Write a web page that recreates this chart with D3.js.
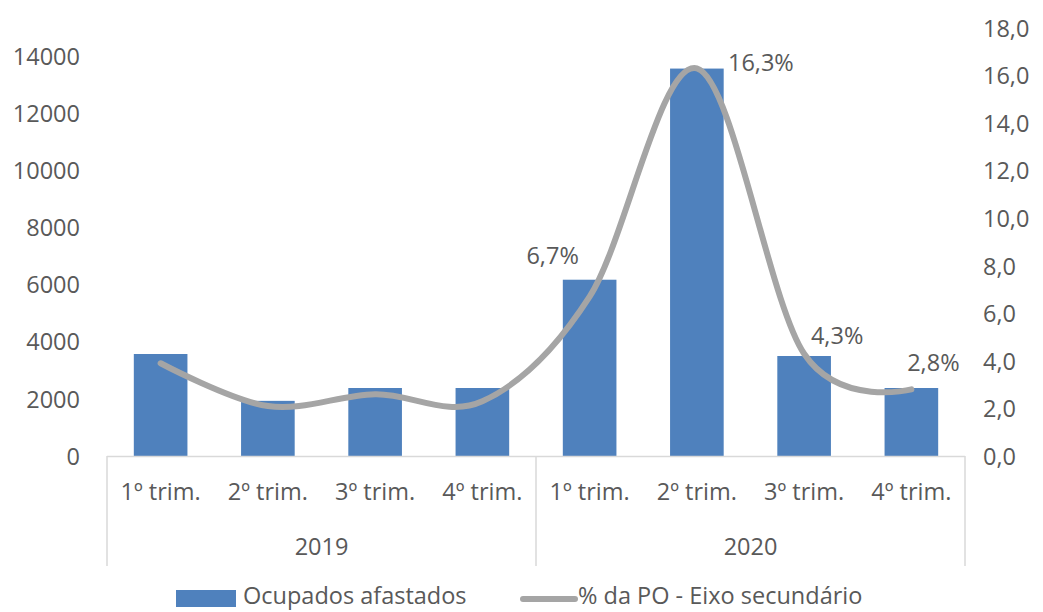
<!DOCTYPE html>
<html>
<head>
<meta charset="utf-8">
<script src="https://cdn.jsdelivr.net/npm/d3@7"></script>
<style>
  html, body { margin: 0; padding: 0; background: #ffffff; }
  svg { display: block; }
  text { font-family: "Open Sans", "Noto Sans", sans-serif; fill: #595959; }
</style>
</head>
<body>
<svg id="chart" width="1043" height="612"></svg>
<script>
// Quarters and the year each one belongs to
const quarters = ["1º trim.", "2º trim.", "3º trim.", "4º trim.", "1º trim.", "2º trim.", "3º trim.", "4º trim."];
const years = ["2019", "2019", "2019", "2019", "2020", "2020", "2020", "2020"];
const yearGroups = ["2019", "2020"];

// Employed people away from work (thousands)
const afastados = [3570, 1930, 2380, 2380, 6170, 13560, 3500, 2380];
// Share of the employed population (%), secondary axis
const pctPO = [3.9, 2.1, 2.6, 2.3, 6.7, 16.3, 4.3, 2.8];
// Which points carry a value label
const labelled = [false, false, false, false, true, true, true, true];

const leftTicks = [0, 2000, 4000, 6000, 8000, 10000, 12000, 14000];
const rightTicks = [0, 2, 4, 6, 8, 10, 12, 14, 16, 18];

const FS = "23.5px";
const svg = d3.select("#chart");
const m = { left: 107, right: 965, top: 28, bottom: 456 };

const x = d3.scaleBand()
  .domain(d3.range(quarters.length))
  .range([m.left, m.right])
  .paddingInner(0.5)
  .paddingOuter(0.25);

const yL = d3.scaleLinear().domain([0, 14980]).range([m.bottom, m.top]);
const yR = d3.scaleLinear().domain([0, 18]).range([m.bottom, m.top]);

const comma1 = v => d3.format(".1f")(v).replace(".", ",");

// Left axis (values)
const axL = svg.append("g")
  .attr("transform", `translate(${m.left},0)`)
  .call(d3.axisLeft(yL).tickValues(leftTicks).tickSize(0).tickPadding(27).tickFormat(d3.format("d")));
axL.select(".domain").remove();
axL.selectAll("text").style("font-size", FS).attr("fill", "#595959").attr("dy", "0.35em");

// Right axis (percent)
const axR = svg.append("g")
  .attr("transform", `translate(${m.right},0)`)
  .call(d3.axisRight(yR).tickValues(rightTicks).tickSize(0).tickPadding(18).tickFormat(comma1));
axR.select(".domain").remove();
axR.selectAll("text").style("font-size", FS).attr("fill", "#595959").attr("dy", "0.35em");

// Bars
svg.append("g").selectAll("rect")
  .data(afastados)
  .join("rect")
  .attr("x", (d, i) => x(i))
  .attr("width", x.bandwidth())
  .attr("y", d => yL(d))
  .attr("height", d => yL(0) - yL(d))
  .attr("fill", "#4f81bd");

// Category axis baseline and group separators
const step = (m.right - m.left) / quarters.length;
svg.append("line")
  .attr("x1", m.left).attr("x2", m.right)
  .attr("y1", m.bottom + 0.5).attr("y2", m.bottom + 0.5)
  .attr("stroke", "#d9d9d9").attr("stroke-width", 1.5);

const sepX = [0, 4, 8].map(i => m.left + i * step);
svg.append("g").selectAll("line")
  .data(sepX)
  .join("line")
  .attr("x1", d => d).attr("x2", d => d)
  .attr("y1", m.bottom).attr("y2", 566)
  .attr("stroke", "#d9d9d9").attr("stroke-width", 1.5);

// Quarter labels
svg.append("g").selectAll("text")
  .data(quarters)
  .join("text")
  .attr("x", (d, i) => x(i) + x.bandwidth() / 2)
  .attr("y", 492)
  .attr("dy", "0.35em")
  .attr("text-anchor", "middle")
  .style("font-size", FS)
  .text(d => d);

// Year labels, centred under their quarters
svg.append("g").selectAll("text")
  .data(yearGroups)
  .join("text")
  .attr("x", yr => {
    const idx = years.map((y, i) => y === yr ? i : -1).filter(i => i >= 0);
    return (m.left + idx[0] * step + m.left + (idx[idx.length - 1] + 1) * step) / 2;
  })
  .attr("y", 547)
  .attr("dy", "0.35em")
  .attr("text-anchor", "middle")
  .style("font-size", FS)
  .text(d => d);

// Smoothed percentage line
const cx = i => x(i) + x.bandwidth() / 2;
const line = d3.line()
  .x((d, i) => cx(i))
  .y(d => yR(d))
  .curve(d3.curveCardinal.tension(0));

svg.append("path")
  .datum(pctPO)
  .attr("d", line)
  .attr("fill", "none")
  .attr("stroke", "#a5a5a5")
  .attr("stroke-width", 6)
  .attr("stroke-linecap", "round");

// Value labels on the 2020 points, each nudged clear of the line
const labelOffset = [null, null, null, null, [-37, -41], [64, -6], [33, -18], [22, -27]];
svg.append("g").selectAll("text")
  .data(pctPO.map((v, i) => ({ v, i })).filter(d => labelled[d.i]))
  .join("text")
  .attr("x", d => cx(d.i) + labelOffset[d.i][0])
  .attr("y", d => yR(d.v) + labelOffset[d.i][1])
  .attr("dy", "0.35em")
  .attr("text-anchor", "middle")
  .style("font-size", FS)
  .text(d => comma1(d.v) + "%");

// Legend
const leg = svg.append("g");
leg.append("rect").attr("x", 176).attr("y", 590).attr("width", 60).attr("height", 17).attr("fill", "#4f81bd");
leg.append("text").attr("x", 243).attr("y", 596).attr("dy", "0.35em").style("font-size", FS).text("Ocupados afastados");
leg.append("line").attr("x1", 523).attr("x2", 575).attr("y1", 599).attr("y2", 599)
  .attr("stroke", "#a5a5a5").attr("stroke-width", 6).attr("stroke-linecap", "round");
leg.append("text").attr("x", 578).attr("y", 596).attr("dy", "0.35em").style("font-size", FS).text("% da PO - Eixo secundário");
</script>
</body>
</html>
